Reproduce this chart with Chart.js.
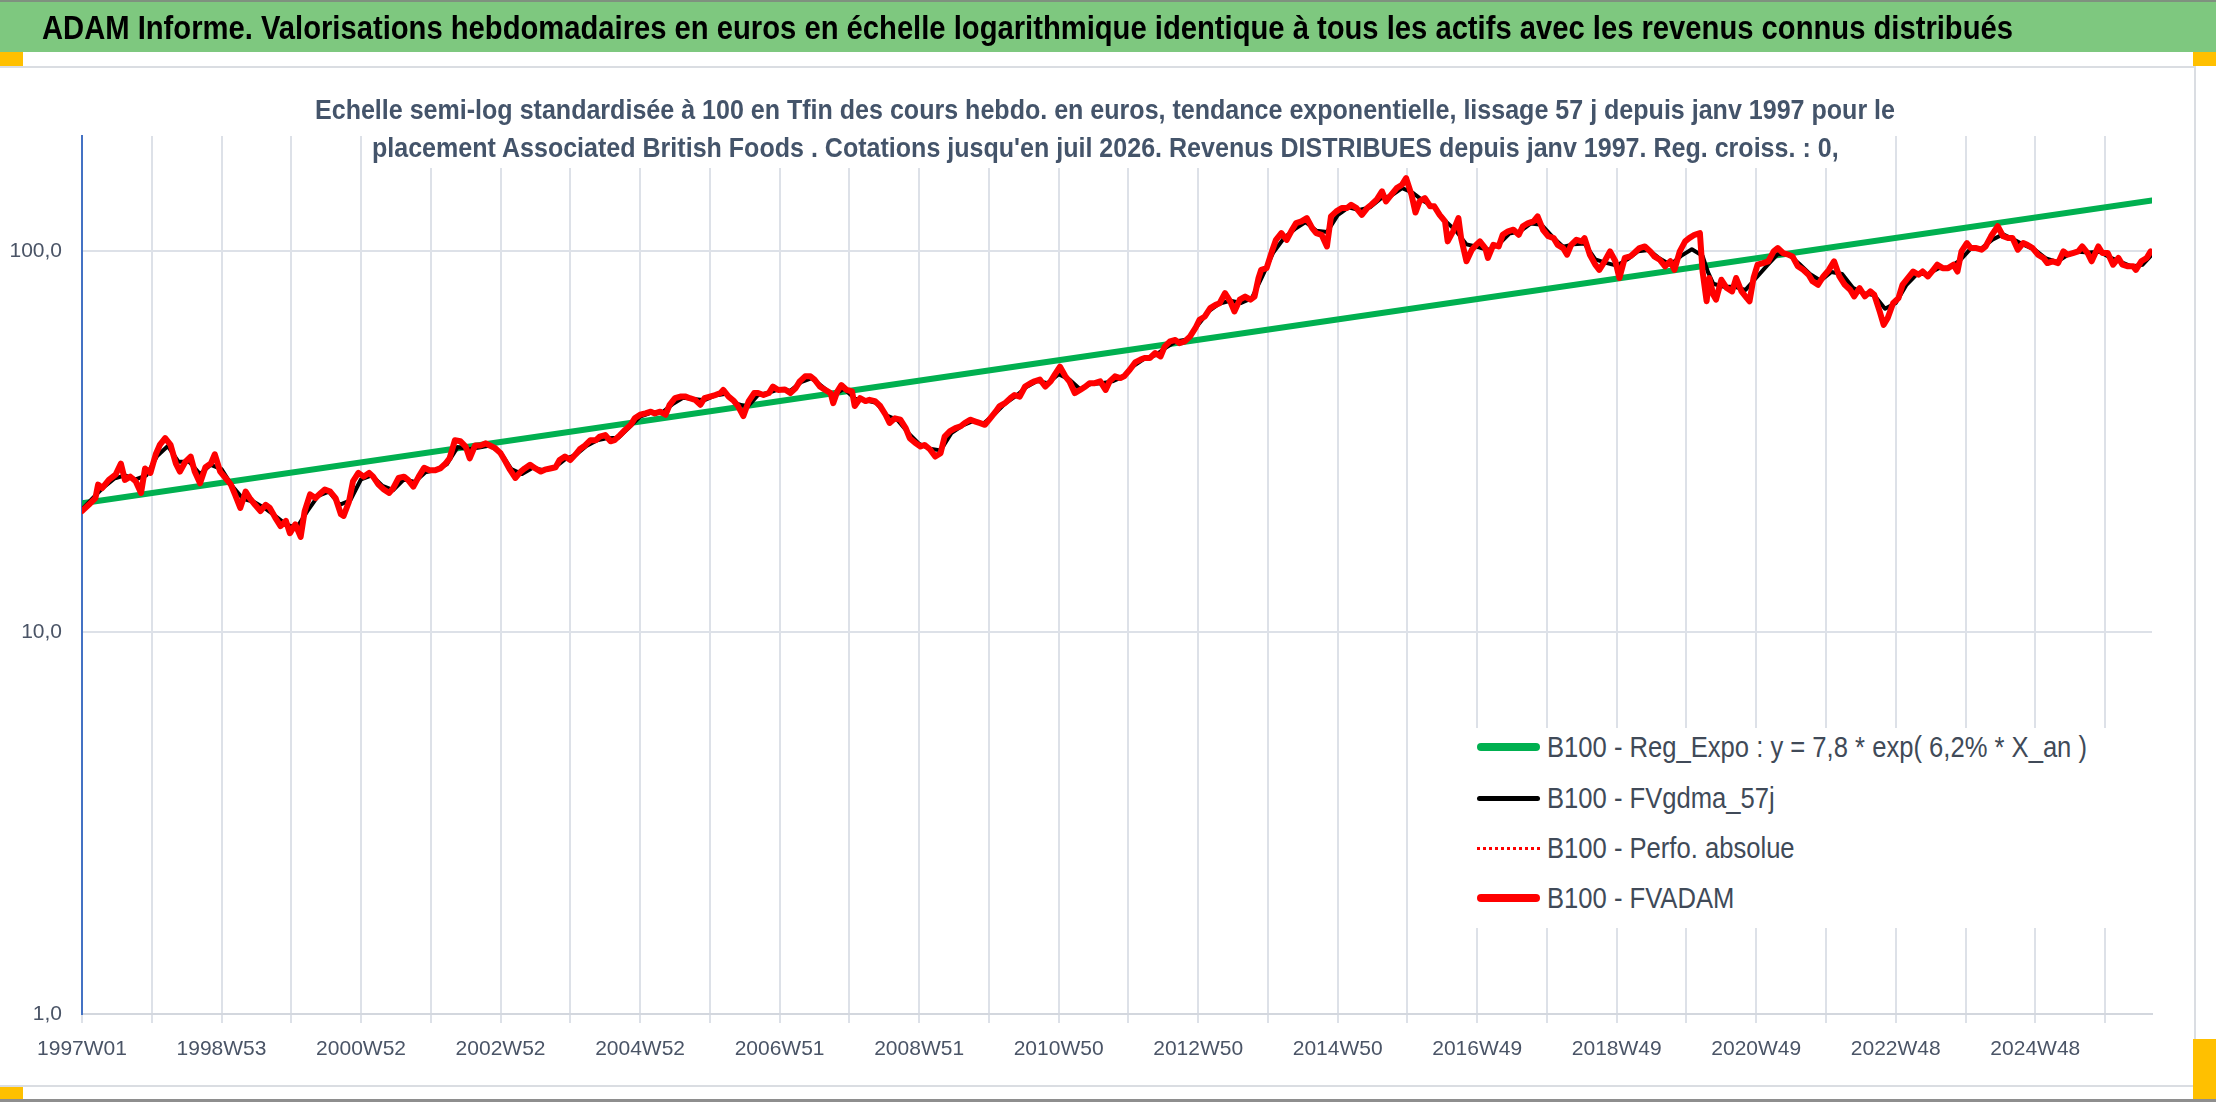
<!DOCTYPE html>
<html><head><meta charset="utf-8">
<script src="https://cdn.jsdelivr.net/npm/chart.js@4.4.1/dist/chart.umd.min.js"></script>
<style>
html,body{margin:0;padding:0;width:2216px;height:1102px;overflow:hidden;background:#fff;font-family:"Liberation Sans",Arial,sans-serif}
.abs{position:absolute}
#band{left:0;top:0;width:2216px;height:52px;background:#7ec87f;border-top:2px solid #7f917f;box-sizing:border-box}
#frame{left:0;top:66px;width:2196px;height:1021px;border:2px solid #dadde2;border-left:none;box-sizing:border-box}
.handle{background:#ffc000}
#bottomline{left:0;top:1099px;width:2216px;height:3px;background:#8e8e8e}
.txt{white-space:nowrap;line-height:1;transform-origin:0 50%}
#title{left:42px;top:12px;font-size:32.5px;font-weight:bold;color:#000;z-index:3}
.sub{font-size:27px;font-weight:bold;color:#44546a;z-index:3}
#sub2{background:#fff;padding-bottom:6px}
#chartwrap{left:0;top:0;width:2216px;height:1102px;z-index:2}
#legend{left:1470px;top:728px;width:645px;height:200px;background:#fff;z-index:3}
.lline{position:absolute;left:7px;width:63px}
.ltext{position:absolute;left:77px;font-size:29px;color:#404a58}
</style>
</head>
<body>
<div id="band" class="abs"></div>
<div id="frame" class="abs"></div>
<div class="abs handle" style="left:0;top:52px;width:23px;height:14px"></div>
<div class="abs handle" style="left:2193px;top:52px;width:23px;height:14px"></div>
<div class="abs handle" style="left:0;top:1087px;width:23px;height:13px"></div>
<div class="abs handle" style="left:2193px;top:1039px;width:23px;height:61px"></div>
<div id="bottomline" class="abs"></div>
<div id="title" class="abs txt">ADAM Informe. Valorisations hebdomadaires en euros en échelle logarithmique identique à tous les actifs avec les revenus connus distribués</div>
<div id="sub1" class="abs txt sub" style="left:315px;top:97px">Echelle semi-log standardisée à 100 en Tfin des cours hebdo. en euros, tendance exponentielle, lissage 57 j depuis janv 1997 pour le</div>
<div id="sub2" class="abs txt sub" style="left:389px;top:135px">placement Associated British Foods . Cotations jusqu'en juil 2026. Revenus DISTRIBUES depuis janv 1997. Reg. croiss. : 0,</div>
<div id="chartwrap" class="abs"><canvas id="c" width="2216" height="1102"></canvas></div>
<div id="legend" class="abs"></div>
<script>
// ---------- DATA ----------
const xTickLabels = ['1997W01','1998W53','2000W52','2002W52','2004W52','2006W51','2008W51','2010W50','2012W50','2014W50','2016W49','2018W49','2020W49','2022W48','2024W48'];
const weeksPerGrid = 52;
const lastWeek = 1543;
const yTickValues = [1, 10, 100];
const yTickLabels = ['1,0', '10,0', '100,0'];
const yMax = 200;

const seriesNames = [
  'B100 - Reg_Expo : y = 7,8 * exp( 6,2% *  X_an )',
  'B100 - FVgdma_57j',
  'B100 - Perfo. absolue',
  'B100 - FVADAM'
];

// [week index since 1997W01, value]
const regExpo = [[0,21.8],[780,55.0],[1543,135.6]];

const fvadam = [
[0,20.8],[5,21.6],[10,22.5],[12,24.4],[15,23.9],[20,25.1],[25,25.9],[29,27.7],[32,25.1],[36,25.6],
[40,24.9],[44,23.2],[47,26.9],[51,26.2],[55,29.3],[58,31.0],[62,32.3],[66,31.0],[70,27.7],[73,26.4],
[77,28.0],[81,28.9],[84,26.4],[88,24.6],[92,27.1],[96,27.7],[99,29.3],[103,26.4],[107,25.4],[111,24.4],
[114,23.0],[118,21.2],[122,23.4],[125,22.5],[129,21.6],[133,20.8],[137,21.6],[140,21.2],[144,20.0],[148,19.0],
[152,19.6],[155,18.2],[159,19.2],[163,17.8],[166,20.8],[170,23.0],[174,22.5],[178,23.2],[181,23.7],[185,23.4],
[189,22.5],[193,20.4],[195,20.2],[199,22.0],[202,24.9],[206,26.2],[210,25.6],[214,26.2],[217,25.6],[221,24.4],
[225,23.7],[229,23.2],[232,23.9],[236,25.4],[240,25.6],[243,25.1],[247,24.1],[251,25.6],[255,27.0],[259,26.6],
[263,26.6],[267,26.9],[271,27.7],[274,28.6],[278,31.9],[282,31.7],[286,30.7],[289,28.6],[293,30.9],[297,30.9],
[301,31.3],[304,30.9],[308,30.4],[312,29.5],[315,28.3],[319,26.7],[323,25.4],[327,26.4],[330,26.9],[334,27.5],
[338,26.9],[342,26.4],[345,26.7],[349,26.9],[353,27.1],[356,28.3],[360,28.9],[364,28.3],[368,29.3],[371,30.2],
[375,30.9],[379,31.9],[383,31.9],[386,32.6],[390,32.9],[394,31.7],[397,31.9],[401,32.9],[405,34.0],[409,35.0],
[412,36.4],[416,37.2],[420,37.5],[424,37.9],[427,37.5],[431,37.9],[435,37.2],[438,39.5],[442,41.1],[446,41.5],
[450,41.5],[453,41.1],[457,40.7],[461,39.5],[464,41.1],[468,41.5],[472,41.9],[476,42.4],[478,43.2],[482,41.5],
[486,40.4],[489,39.2],[493,36.9],[497,40.4],[501,42.4],[504,42.4],[508,41.9],[512,42.4],[515,44.1],[519,43.2],
[524,43.3],[528,42.4],[532,43.7],[535,45.5],[539,46.9],[543,46.9],[546,46.0],[550,44.1],[554,43.2],[558,42.4],
[560,39.9],[563,42.8],[566,44.5],[570,43.2],[574,42.8],[576,39.2],[580,41.1],[584,40.4],[587,40.7],[591,40.4],
[595,39.2],[599,37.2],[602,35.4],[606,36.4],[610,36.1],[614,34.3],[617,32.3],[621,31.4],[625,30.7],[628,31.0],
[632,30.2],[636,28.9],[640,29.5],[643,32.6],[647,33.7],[651,34.3],[655,34.7],[658,35.4],[662,36.1],[666,35.7],
[669,35.4],[673,35.0],[677,36.4],[681,37.9],[684,39.2],[688,39.9],[692,41.1],[695,41.9],[699,41.5],[703,44.1],
[707,45.0],[710,45.5],[714,46.0],[718,44.1],[722,45.5],[725,47.3],[729,49.7],[733,46.9],[736,45.5],[740,42.4],
[744,43.2],[748,44.1],[751,45.0],[755,45.0],[759,45.5],[763,43.2],[766,45.5],[770,46.9],[774,46.4],[777,47.0],
[781,48.8],[785,51.0],[789,51.9],[792,52.4],[796,52.4],[800,54.0],[804,52.9],[807,56.1],[811,57.9],[815,58.4],
[818,57.3],[822,57.9],[826,59.7],[830,62.8],[833,66.0],[837,67.3],[841,70.8],[845,72.2],[848,72.9],[852,77.5],
[856,73.6],[859,69.4],[863,74.5],[867,75.9],[871,74.5],[874,75.9],[877,84.9],[879,89.2],[883,90.1],[887,99.7],
[890,106.9],[894,111.3],[898,106.9],[902,113.6],[905,118.3],[909,119.5],[913,121.9],[917,114.7],[920,111.3],[924,110.2],
[928,102.7],[931,123.1],[935,126.9],[939,129.5],[943,129.5],[946,132.1],[950,129.5],[954,124.3],[958,129.5],[961,132.1],
[965,136.1],[969,143.2],[972,134.8],[976,140.4],[980,146.1],[984,149.1],[987,155.1],[991,140.4],[994,126.0],[997,134.8],
[1001,137.5],[1005,130.8],[1008,130.8],[1012,124.3],[1016,119.5],[1018,105.9],[1022,112.5],[1026,121.9],[1028,108.0],[1032,93.9],
[1036,100.7],[1039,103.5],[1042,105.9],[1046,101.7],[1048,95.8],[1052,103.7],[1056,102.7],[1059,110.2],[1063,112.5],[1067,113.6],
[1071,110.2],[1074,116.0],[1078,118.3],[1082,119.5],[1085,123.1],[1089,113.6],[1093,109.2],[1097,108.0],[1100,103.7],[1104,101.7],
[1107,97.7],[1110,103.7],[1114,106.9],[1118,105.9],[1120,108.0],[1124,97.7],[1128,92.0],[1131,89.2],[1135,93.9],[1139,99.7],
[1143,93.9],[1146,84.9],[1150,95.8],[1154,96.7],[1157,98.7],[1161,101.7],[1165,102.7],[1169,99.7],[1172,96.7],[1176,94.8],
[1180,91.1],[1184,93.9],[1187,89.2],[1191,99.7],[1195,105.9],[1198,108.0],[1202,110.2],[1206,111.3],[1208,88.3],[1211,73.8],
[1213,84.9],[1216,76.7],[1218,74.5],[1222,84.0],[1226,79.9],[1230,78.3],[1233,84.9],[1237,78.3],[1241,75.2],[1243,73.8],
[1246,84.9],[1249,92.0],[1253,92.9],[1257,93.9],[1261,99.7],[1264,101.7],[1268,98.7],[1272,97.7],[1275,96.7],[1279,91.1],
[1283,89.2],[1287,86.6],[1290,83.2],[1294,81.5],[1298,85.7],[1302,89.0],[1306,93.9],[1310,85.7],[1314,81.5],[1318,79.1],
[1321,76.0],[1325,79.9],[1329,76.0],[1333,78.3],[1336,76.7],[1340,69.4],[1343,64.0],[1346,66.7],[1350,72.9],[1354,75.2],
[1357,81.5],[1361,84.9],[1365,88.3],[1369,86.6],[1372,88.3],[1376,85.7],[1380,89.2],[1383,92.0],[1387,90.1],[1391,90.1],
[1395,92.0],[1398,88.3],[1401,99.7],[1405,104.8],[1408,101.7],[1412,101.7],[1416,100.7],[1419,102.7],[1423,109.2],[1428,116.0],
[1432,109.2],[1436,108.0],[1439,108.0],[1443,100.7],[1447,104.8],[1450,103.7],[1454,101.7],[1458,97.7],[1462,95.8],[1465,92.9],
[1469,93.9],[1473,92.9],[1477,99.7],[1480,97.7],[1484,98.7],[1488,99.7],[1491,102.7],[1495,98.7],[1498,93.9],[1503,102.7],
[1506,98.7],[1510,98.7],[1514,92.0],[1518,95.8],[1521,92.0],[1525,91.1],[1529,91.1],[1531,89.2],[1535,93.9],[1539,95.8],
[1542,99.7]
];

const fvgdma57 = [
[0,21.0],[8,22.5],[16,24.0],[24,25.3],[32,25.8],[40,25.2],[48,25.8],[56,29.0],[64,30.8],[72,28.0],
[80,28.0],[88,26.0],[96,27.5],[104,26.8],[112,24.2],[120,22.4],[128,22.0],[136,21.2],[144,20.2],[152,19.2],
[160,18.8],[168,20.8],[176,22.8],[184,23.4],[192,21.6],[200,22.2],[208,25.2],[216,25.8],[224,24.2],[232,23.6],
[240,25.2],[248,24.8],[256,26.3],[264,26.7],[272,27.6],[280,30.6],[288,30.2],[296,30.5],[304,30.9],[312,29.6],
[320,26.8],[328,26.0],[336,27.0],[344,26.6],[352,27.0],[360,28.4],[368,29.2],[376,30.8],[384,31.9],[392,32.3],
[400,32.4],[408,34.5],[416,36.8],[424,37.6],[432,37.6],[440,39.6],[448,41.2],[456,40.9],[464,40.6],[472,41.8],
[480,42.2],[488,39.8],[496,39.0],[504,41.9],[512,42.5],[520,43.4],[528,43.0],[536,45.3],[544,46.4],[552,44.0],
[560,41.8],[568,43.5],[576,41.0],[584,40.6],[592,40.0],[600,37.0],[608,36.0],[616,33.3],[624,31.2],[632,30.3],
[640,30.0],[648,33.3],[656,34.8],[664,35.8],[672,35.3],[680,37.3],[688,39.8],[696,41.6],[704,44.0],[712,45.6],
[720,45.0],[728,47.5],[736,46.0],[744,43.4],[752,44.8],[760,45.0],[768,45.5],[776,46.8],[784,50.0],[792,52.2],
[800,53.2],[808,55.8],[816,58.0],[824,58.6],[832,64.0],[840,69.5],[848,72.8],[856,74.0],[864,73.0],[872,75.2],
[880,86.0],[888,99.0],[896,108.0],[904,114.0],[912,119.0],[920,113.0],[928,112.0],[936,124.0],[944,130.0],[952,128.0],
[960,130.0],[968,137.0],[976,139.5],[984,146.0],[992,142.0],[1000,135.0],[1008,130.0],[1016,120.0],[1024,113.0],[1032,104.0],
[1040,102.5],[1048,100.5],[1056,104.0],[1064,111.0],[1072,112.5],[1080,118.0],[1088,117.0],[1096,109.0],[1104,102.5],[1112,104.0],
[1120,104.5],[1128,95.0],[1136,93.0],[1144,91.5],[1152,95.0],[1160,99.8],[1168,100.5],[1176,95.5],[1184,92.0],[1192,97.0],
[1200,101.0],[1208,97.0],[1212,88.0],[1216,82.0],[1224,80.5],[1232,80.5],[1240,79.0],[1248,85.0],[1256,91.5],[1264,98.0],
[1272,98.0],[1280,92.5],[1288,87.0],[1296,83.5],[1304,88.0],[1312,87.0],[1320,80.0],[1328,77.5],[1336,76.5],[1344,70.5],
[1352,73.0],[1360,81.5],[1368,87.0],[1376,87.0],[1384,90.0],[1392,90.5],[1400,94.5],[1408,101.5],[1416,101.5],[1424,107.0],
[1432,110.5],[1440,107.0],[1448,103.5],[1456,100.5],[1464,95.5],[1472,93.5],[1480,97.5],[1488,99.5],[1496,99.0],[1504,99.5],
[1512,96.0],[1520,93.5],[1528,91.0],[1536,92.0],[1542,97.0]
];

// ---------- STYLE / FONTS ----------
function hasFont(name){
  const c=document.createElement('canvas').getContext('2d');
  c.font='40px monospace'; const a=c.measureText('2016W49 abcdefg').width;
  c.font='40px "'+name+'", monospace'; const b=c.measureText('2016W49 abcdefg').width;
  return Math.abs(a-b)>0.5;
}
const narrow = hasFont('Liberation Sans Narrow');
const tickFamily = narrow ? '"Liberation Sans Narrow", "Liberation Sans", Arial, sans-serif' : '"Liberation Sans", Arial, sans-serif';
const xTickSize = narrow ? 23 : 21;
const yTickSize = narrow ? 22 : 21;
const tickColor = '#4a5466';
const gridColor = '#dde1e8';

const toXY = arr => arr.map(p => ({x: p[0], y: p[1]}));

const styles = [
  {color:'#00b050', width:6, dash:[], order:3},
  {color:'#000000', width:4, dash:[], order:2},
  {color:'#ff0000', width:2, dash:[2,3], order:1},
  {color:'#ff0000', width:6, dash:[], order:0}
];
const seriesData = [regExpo, fvgdma57, fvadam, fvadam];

const datasets = seriesNames.map((name,i)=>({
  label: name,
  data: toXY(seriesData[i]),
  borderColor: styles[i].color,
  backgroundColor: styles[i].color,
  borderWidth: styles[i].width,
  borderDash: styles[i].dash,
  order: styles[i].order,
  pointRadius: 0,
  tension: 0,
  fill: false,
  borderCapStyle: 'round',
  borderJoinStyle: 'round'
}));

const PLOT = {left:82, right:2152, top:136, bottom:1014};

new Chart(document.getElementById('c'), {
  type: 'line',
  data: { datasets },
  options: {
    responsive: false,
    animation: false,
    devicePixelRatio: 1,
    layout: { padding: { left: 0, right: 2216 - PLOT.right, top: PLOT.top, bottom: 0 } },
    plugins: { legend: { display: false }, tooltip: { enabled: false }, title: { display: false } },
    scales: {
      x: {
        type: 'linear', min: 0, max: lastWeek,
        afterBuildTicks: s => { const t=[]; for (let w=0; w<=lastWeek; w+=weeksPerGrid) t.push({value:w}); s.ticks = t; },
        afterFit: s => { s.height = 1102 - PLOT.bottom; },
        ticks: {
          autoSkip: false, maxRotation: 0, minRotation: 0, padding: 14,
          color: tickColor, font: { family: tickFamily, size: xTickSize },
          callback: (v, i) => (i % 2 === 0 ? (xTickLabels[i/2] || '') : '')
        },
        grid: {
          color: ctx => (ctx.index === 0 ? 'rgba(0,0,0,0)' : gridColor),
          lineWidth: 2, drawTicks: true, tickLength: 9, tickColor: gridColor
        },
        border: { display: true, color: '#d3d7de', width: 2 }
      },
      y: {
        type: 'logarithmic', min: 1, max: yMax,
        afterBuildTicks: s => { s.ticks = yTickValues.map(v => ({value: v})); },
        afterFit: s => { s.width = PLOT.left; },
        ticks: {
          padding: 20, color: tickColor, font: { family: tickFamily, size: yTickSize },
          callback: (v, i) => yTickLabels[i]
        },
        grid: { color: gridColor, lineWidth: 2, drawTicks: false },
        border: { display: true, color: '#4472c4', width: 2 }
      }
    }
  }
});

// ---------- LEGEND (HTML, real text) ----------
const legend = document.getElementById('legend');
const rowCenters = [19, 70, 120, 170];
const texts = [];
[0,1,2,3].forEach((i, r) => {
  const cy = rowCenters[r];
  const line = document.createElement('div');
  line.className = 'lline';
  const st = styles[i];
  const lw = (i === 2) ? 3 : (i === 1 ? 5 : 8);
  line.style.top = (cy - lw/2) + 'px';
  line.style.height = lw + 'px';
  if (i === 2) {
    line.style.background = 'repeating-linear-gradient(90deg,' + st.color + ' 0 3px, transparent 3px 6px)';
  } else {
    line.style.background = st.color;
    line.style.borderRadius = (lw/2) + 'px';
  }
  legend.appendChild(line);
  const t = document.createElement('div');
  t.className = 'ltext txt';
  t.textContent = seriesNames[i];
  t.style.lineHeight = '29px';
  t.style.top = (cy - 14.2) + 'px';
  legend.appendChild(t);
  texts.push(t);
});

function naturalWidth(el){ el.style.transform = 'none'; return el.getBoundingClientRect().width; }
const legScale = 540 / naturalWidth(texts[0]);
texts.forEach(t => { t.style.transform = 'scaleX(' + legScale + ')'; });

const title = document.getElementById('title');
title.style.transform = 'scaleX(' + (1971 / naturalWidth(title)) + ')';
const sub1 = document.getElementById('sub1');
const sub2 = document.getElementById('sub2');
const subScale = 1580 / naturalWidth(sub1);
const w2 = naturalWidth(sub2) * subScale;
sub1.style.transform = 'scaleX(' + subScale + ')';
sub2.style.transform = 'scaleX(' + subScale + ')';
sub1.style.left = (1105 - 790) + 'px';
sub2.style.left = (1105 - w2/2) + 'px';
</script>
</body></html>
